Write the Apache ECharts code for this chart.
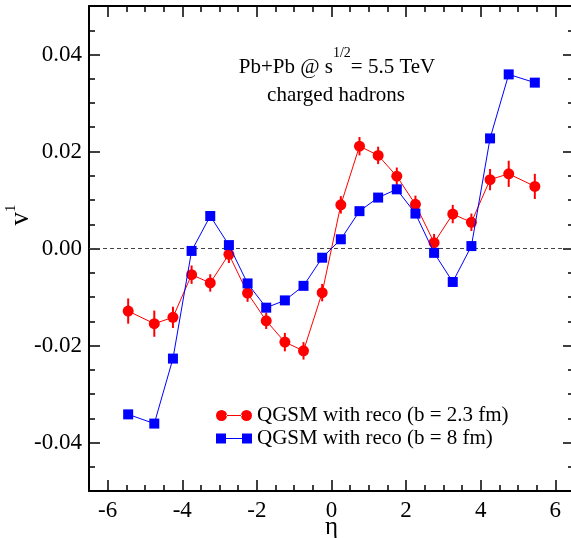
<!DOCTYPE html>
<html>
<head>
<meta charset="utf-8">
<script src="https://cdn.jsdelivr.net/npm/echarts@6/dist/echarts.min.js"></script>
<style>
html,body{margin:0;padding:0;background:#fff;}
#chart{width:571px;height:538px;}
</style>
</head>
<body>
<div id="chart"></div>
<script>
// ---- data ----
const eta = [-5.45,-4.75,-4.25,-3.75,-3.25,-2.75,-2.25,-1.75,-1.25,-0.75,-0.25,0.25,0.75,1.25,1.75,2.25,2.75,3.25,3.75,4.25,4.75,5.45];
const v1Central = [-0.0129,-0.0155,-0.0142,-0.0054,-0.0071,-0.0012,-0.0092,-0.0149,-0.0193,-0.0211,-0.0091,0.0090,0.0211,0.0192,0.0149,0.0091,0.0012,0.0071,0.0054,0.0142,0.0154,0.0128];
const errCentral = [0.0026,0.0027,0.0022,0.0019,0.0018,0.0018,0.0018,0.0017,0.0019,0.0018,0.0018,0.0018,0.0019,0.0018,0.0018,0.0018,0.0018,0.0019,0.0018,0.0022,0.0027,0.0026];
const v1Peripheral = [-0.0342,-0.0361,-0.0227,-0.0005,0.0067,0.0007,-0.0072,-0.0122,-0.0107,-0.0077,-0.0019,0.0019,0.0077,0.0105,0.0122,0.0072,-0.0009,-0.0069,0.0005,0.0227,0.0359,0.0342];
const errPeripheral = [0.0009,0.0009,0.0008,0.0008,0.0008,0.0008,0.0008,0.0008,0.0008,0.0008,0.0008,0.0008,0.0008,0.0008,0.0008,0.0008,0.0008,0.0008,0.0008,0.0008,0.0009,0.0009];
const xMajor = [-6,-4,-2,0,2,4,6];
const xMinor = [-5.5,-5,-4.5,-3.5,-3,-2.5,-1.5,-1,-0.5,0.5,1,1.5,2.5,3,3.5,4.5,5,5.5];
const yMajor = [-0.04,-0.02,0,0.02,0.04];
const yMinor = [-0.045,-0.035,-0.03,-0.025,-0.015,-0.01,-0.005,0.005,0.01,0.015,0.025,0.03,0.035,0.045];
const seriesNames = ['QGSM with reco (b = 2.3 fm)','QGSM with reco (b = 8 fm)'];

const FONT = '"Liberation Serif", "Times New Roman", "DejaVu Serif", serif';
const RED = '#ff0000', BLUE = '#0000ff';

const pts = (ys) => eta.map((x,i)=>[x, ys[i]]);
const errPts = (ys, es) => eta.map((x,i)=>[x, ys[i], es[i]]);

function errRender(color){
  return function(params, api){
    const x = api.value(0), y = api.value(1), e = api.value(2);
    const a = api.coord([x, y - e]), b = api.coord([x, y + e]);
    return {type:'line', shape:{x1:a[0], y1:a[1], x2:b[0], y2:b[1]}, style:{stroke: color, lineWidth: 2}};
  };
}

function xAxisDef(pos, vals, len, withLine, withLabel){
  return {
    type:'value', position:pos, min:-6.5, max:6.5,
    axisLine:{show:withLine, onZero:false, lineStyle:{color:'#000', width:2}},
    axisTick:{show:true, inside:true, length:len, customValues:vals, lineStyle:{color:'#000', width:1.5}},
    axisLabel:{show:withLabel, customValues:vals, color:'#000', fontFamily:FONT, fontSize:23, margin:8},
    splitLine:{show:false},
    name: withLabel ? 'η' : '', nameLocation:'middle', nameGap:24, nameMoveOverlap:false,
    nameTextStyle:{color:'#000', fontFamily:FONT, fontSize:25}
  };
}
function yAxisDef(pos, vals, len, withLine, withLabel){
  return {
    type:'value', position:pos, min:-0.05, max:0.05,
    axisLine:{show:withLine, onZero:false, lineStyle:{color:'#000', width:2}},
    axisTick:{show:true, inside:true, length:len, customValues:vals, lineStyle:{color:'#000', width:1.5}},
    axisLabel:{show:withLabel, customValues:vals, color:'#000', fontFamily:FONT, fontSize:23, margin:7,
      formatter:(v)=> (Math.abs(v)<1e-9 ? 0 : v).toFixed(2)},
    splitLine:{show:false}
  };
}

const circleIcon = 'path://M0,5.5 A5.5,5.5 0 1,0 11,5.5 A5.5,5.5 0 1,0 0,5.5 Z M10,5 L26,5 L26,6 L10,6 Z M25,5.5 A5.5,5.5 0 1,0 36,5.5 A5.5,5.5 0 1,0 25,5.5 Z';
const squareIcon = 'path://M0,0.5 L10,0.5 L10,10.5 L0,10.5 Z M9,5 L27,5 L27,6 L9,6 Z M26,0.5 L36,0.5 L36,10.5 L26,10.5 Z';

const chart = echarts.init(document.getElementById('chart'), null, {renderer:'canvas'});
chart.setOption({
  animation:false,
  backgroundColor:'#fff',
  grid:{left:89, top:6, width:485, height:485, containLabel:false, outerBoundsMode:'none'},
  xAxis:[
    xAxisDef('bottom', xMajor, 11, true, true),
    xAxisDef('bottom', xMinor, 6, false, false),
    xAxisDef('top', xMajor, 11, true, false),
    xAxisDef('top', xMinor, 6, false, false)
  ],
  yAxis:[
    yAxisDef('left', yMajor, 11, true, true),
    yAxisDef('left', yMinor, 6, false, false),
    yAxisDef('right', yMajor, 11, true, false),
    yAxisDef('right', yMinor, 6, false, false)
  ],
  legend:{
    orient:'vertical', left:216, top:405, padding:0, itemWidth:36, itemHeight:11, itemGap:2,
    selectedMode:false,
    textStyle:{color:'#000', fontFamily:FONT, fontSize:21, lineHeight:21},
    data:[
      {name:seriesNames[0], icon:circleIcon, itemStyle:{color:RED}},
      {name:seriesNames[1], icon:squareIcon, itemStyle:{color:BLUE}}
    ]
  },
  graphic:[
    {type:'text', x:337, y:62, style:{
      text:'{n|Pb+Pb @ s}{p|1/2}{n|= 5.5 TeV}', align:'center', verticalAlign:'middle',
      rich:{
        n:{fontFamily:FONT, fontSize:21, fill:'#000', lineHeight:32, verticalAlign:'bottom'},
        p:{fontFamily:FONT, fontSize:14, fill:'#000', verticalAlign:'top'}
      }
    }},
    {type:'text', x:336, y:95, style:{text:'charged hadrons', align:'center', verticalAlign:'middle', fontFamily:FONT, fontSize:21, fill:'#000'}},
    {type:'text', x:19, y:215, rotation:Math.PI/2, style:{
      text:'{v|v}{s|1}', align:'center', verticalAlign:'middle',
      rich:{
        v:{fontFamily:FONT, fontSize:27, fill:'#000', lineHeight:30, verticalAlign:'bottom'},
        s:{fontFamily:FONT, fontSize:15, fill:'#000', verticalAlign:'top'}
      }
    }}
  ],
  series:[
    {type:'custom', name:'errC', xAxisIndex:0, yAxisIndex:0, data:errPts(v1Central, errCentral),
      renderItem:errRender(RED), encode:{x:0, y:1}, silent:true, z:2},
    {type:'line', name:seriesNames[0], xAxisIndex:0, yAxisIndex:0, data:pts(v1Central),
      symbol:'circle', symbolSize:11, color:RED, itemStyle:{color:RED},
      lineStyle:{color:RED, width:1}, z:3,
      markLine:{silent:true, symbol:'none', label:{show:false},
        lineStyle:{color:'#444', width:1, type:[4,3]}, data:[{yAxis:0}]}},
    {type:'custom', name:'errP', xAxisIndex:0, yAxisIndex:0, data:errPts(v1Peripheral, errPeripheral),
      renderItem:errRender(BLUE), encode:{x:0, y:1}, silent:true, z:4},
    {type:'line', name:seriesNames[1], xAxisIndex:0, yAxisIndex:0, data:pts(v1Peripheral),
      symbol:'rect', symbolSize:10, color:BLUE, itemStyle:{color:BLUE},
      lineStyle:{color:BLUE, width:1}, z:5}
  ]
});
</script>
</body>
</html>
